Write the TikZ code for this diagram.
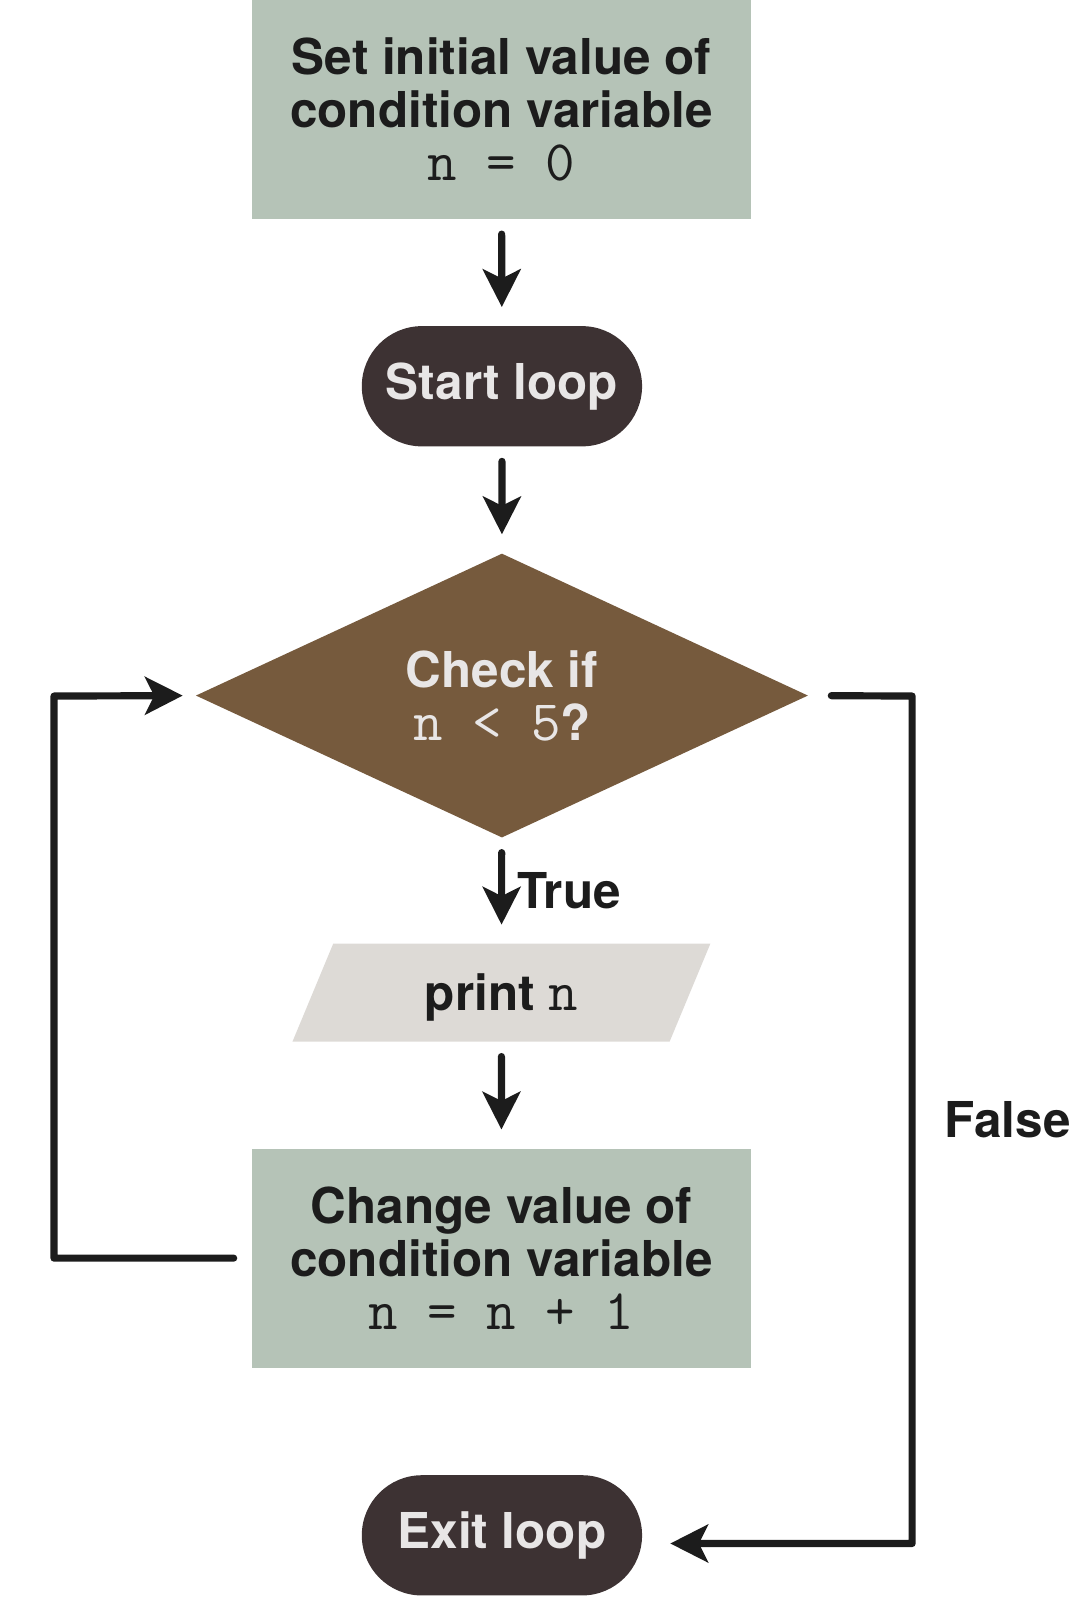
\documentclass[tikz,border=0pt]{standalone}
\usepackage{fontspec}
\setmainfont{TeX Gyre Heros}
\usetikzlibrary{arrows.meta, positioning, shapes.geometric, shapes.misc}
\definecolor{mainBlack}{HTML}{1C1C1C}
\definecolor{sageBox}{HTML}{B5C3B7}
\definecolor{loopDark}{HTML}{3D3233}
\definecolor{checkBrown}{HTML}{765A3D}
\definecolor{printGray}{HTML}{DDDAD6}
\definecolor{lightText}{HTML}{E8E6E6}
\newcommand{\code}[1]{{\fontsize{16}{14.8}\selectfont\ttfamily\mdseries #1}}

\begin{document}
\begin{tikzpicture}[>={Stealth[length=3.7mm, width=3.7mm, inset=0.9mm]},
    every node/.style={font=\fontsize{13.8}{14.8}\selectfont\bfseries, align=center, text=mainBlack},
    stepbox/.style={rectangle, fill=sageBox, minimum width=4.9cm, minimum height=2.15cm, inner sep=0pt},
    terminal/.style={rounded rectangle, fill=loopDark, text=lightText, minimum width=2.75cm, minimum height=1.18cm, inner sep=0pt},
    flow/.style={->, line width=2pt, mainBlack, line cap=round, shorten <=1.4mm, shorten >=1.8mm},
    loopline/.style={->, line width=2pt, mainBlack, line cap=round, line join=round}]
    \useasboundingbox (0,0) rectangle (10.5,-15.68);

    \node (init) [stepbox] at (4.92,-1.075) {Set initial value of\\condition variable\\\code{n = 0}};
    \node (start) [terminal] at (4.925,-3.79) {Start loop};
    \node (check) [diamond, fill=checkBrown, text=lightText, minimum width=6.01cm, minimum height=2.79cm, inner sep=0pt] at (4.925,-6.825) {Check if\\\code{n < 5}?};
    \node (print) [trapezium, trapezium left angle=67.4, trapezium right angle=112.6, trapezium stretches body,
        fill=printGray, minimum width=4.1cm, minimum height=0.96cm, text height=9.9pt, text depth=0pt,
        inner xsep=0pt, inner ysep=8.7pt] at (4.92,-9.74) {print \code{n}};
    \node (change) [stepbox] at (4.92,-12.345) {Change value of\\condition variable\\\code{n = n + 1}};
    \node (exit) [terminal] at (4.925,-15.065) {Exit loop};

    \coordinate (backL) at (0.53,-6.83);
    \coordinate (backR) at (8.95,-6.83);

    \draw[flow] (init) -- (start);
    \draw[flow] (start) -- (check);
    \draw[flow] (check) -- node[right] {True} (print);
    \draw[flow] (print) -- (change);

    % back to the check
    \draw[loopline, shorten <=1.7mm, shorten >=1.2mm] (change.west) -| (backL) -- (check.west);
    % leave the loop
    \draw[loopline, shorten <=2.2mm, shorten >=2.7mm] (check.east) -- (backR)
        |- node[pos=0.25, right=0.17cm] {False} ([yshift=-0.08cm]exit.east);
\end{tikzpicture}
\end{document}
